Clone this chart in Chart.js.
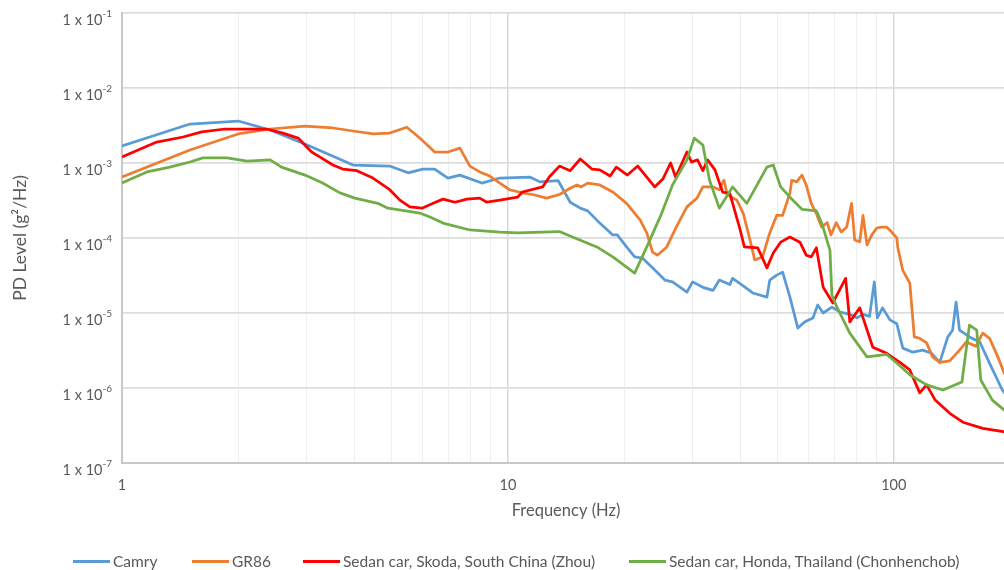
<!DOCTYPE html>
<html>
<head>
<meta charset="utf-8">
<title>PD Level vs Frequency</title>
<script src="https://cdn.jsdelivr.net/npm/chart.js@4.4.1/dist/chart.umd.min.js"></script>
<style>
  html, body { margin: 0; padding: 0; background: #fff; overflow: hidden; }
  #wrap { position: relative; width: 1004px; height: 570px; overflow: hidden; }
  #c { position: absolute; left: 0; top: 0; }
  #legend { position: absolute; left: 0; top: 551px; width: 1004px; height: 20px;
            font-family: Lato, "Open Sans", sans-serif; font-size: 15.5px; color: #595959; }
  .item { position: absolute; top: 0; height: 20px; display: flex; align-items: center; white-space: nowrap; }
  .swatch { width: 37px; height: 3px; margin-right: 3px; }
</style>
</head>
<body>
<div id="wrap">
  <canvas id="c" width="1010" height="570"></canvas>
  <div id="legend"></div>
</div>
<script>
// Series: [frequency (Hz), PSD (g^2/Hz)]
const camry = [
  [1, 1.69e-3], [1.5, 3.31e-3], [2.0, 3.63e-3], [2.42, 2.75e-3], [3.02, 1.74e-3],
  [3.97, 9.4e-4], [4.94, 9.1e-4], [5.51, 7.4e-4], [6.02, 8.3e-4], [6.46, 8.3e-4],
  [6.99, 6.3e-4], [7.51, 6.9e-4], [8.56, 5.4e-4], [9.53, 6.3e-4], [11.4, 6.5e-4],
  [12.1, 5.6e-4], [13.5, 5.8e-4], [14.5, 3.0e-4], [15.4, 2.5e-4], [16.1, 2.3e-4],
  [17.3, 1.58e-4], [18.7, 1.1e-4], [19.2, 1.1e-4], [20.3, 7.6e-5], [21.3, 5.6e-5],
  [22.3, 5.4e-5], [23.7, 4.0e-5], [25.5, 2.75e-5], [26.7, 2.6e-5], [29.1, 1.9e-5],
  [30.1, 2.6e-5], [32.0, 2.2e-5], [34.0, 2.0e-5], [35.3, 2.75e-5], [37.6, 2.4e-5],
  [38.2, 2.9e-5], [39.8, 2.5e-5], [43.1, 1.85e-5], [46.9, 1.63e-5], [47.7, 2.75e-5],
  [49.7, 3.2e-5], [51.5, 3.5e-5], [53.8, 1.63e-5], [56.4, 6.3e-6], [58.7, 7.6e-6],
  [61.7, 8.6e-6], [63.5, 1.28e-5], [65.6, 1.0e-5], [69.1, 1.2e-5], [72.6, 1.03e-5],
  [76.9, 9.6e-6], [80.3, 8.6e-6], [83.2, 9.6e-6], [86.5, 9.0e-6], [89.0, 2.6e-5],
  [90.6, 8.6e-6], [93.5, 1.17e-5], [97.7, 8.1e-6], [101.8, 7.2e-6], [105.5, 3.4e-6],
  [112, 3.0e-6], [118.8, 3.2e-6], [125.3, 2.9e-6], [131.5, 2.2e-6], [138, 4.8e-6],
  [142, 5.9e-6], [145, 1.4e-5], [148, 5.9e-6], [157, 4.8e-6], [167, 4.1e-6],
  [177, 2.15e-6], [191, 9.4e-7], [194, 8.5e-7]
];
const gr86 = [
  [1, 6.5e-4], [1.5, 1.49e-3], [2.0, 2.44e-3], [2.42, 2.84e-3], [2.98, 3.1e-3],
  [3.52, 2.93e-3], [3.97, 2.67e-3], [4.47, 2.44e-3], [4.94, 2.51e-3], [5.47, 3.0e-3],
  [5.91, 2.15e-3], [6.46, 1.4e-3], [6.99, 1.4e-3], [7.51, 1.58e-3], [7.97, 9.1e-4],
  [8.45, 7.6e-4], [8.97, 6.7e-4], [9.53, 5.4e-4], [10.1, 4.4e-4], [10.9, 4.0e-4],
  [11.6, 3.8e-4], [12.6, 3.4e-4], [13.6, 3.8e-4], [14.5, 4.6e-4], [15.1, 5.1e-4],
  [15.5, 4.8e-4], [16.1, 5.4e-4], [17.3, 5.1e-4], [18.7, 4.1e-4], [20.3, 2.9e-4],
  [22.0, 1.74e-4], [22.9, 1.17e-4], [23.7, 6.5e-5], [24.4, 5.9e-5], [25.8, 7.6e-5],
  [27.3, 1.4e-4], [29.1, 2.6e-4], [30.9, 3.4e-4], [32.0, 4.8e-4], [34.0, 4.8e-4],
  [35.3, 4.4e-4], [36.3, 5.9e-4], [37.0, 3.8e-4], [39.2, 3.2e-4], [40.7, 2.15e-4],
  [42.4, 9.4e-5], [43.6, 5.1e-5], [45.7, 5.6e-5], [47.7, 1.17e-4], [49.7, 2.0e-4],
  [51.5, 2.0e-4], [53.8, 4.0e-4], [54.4, 5.9e-4], [56.0, 5.6e-4], [57.8, 6.9e-4],
  [59.3, 5.1e-4], [61.1, 2.9e-4], [62.9, 2.15e-4], [65.0, 1.4e-4], [67.2, 1.6e-4],
  [68.7, 1.1e-4], [70.9, 1.6e-4], [73.1, 1.2e-4], [75.5, 1.4e-4], [77.7, 2.9e-4],
  [79.2, 9.4e-5], [81.6, 8.9e-5], [83.2, 2.0e-4], [85.2, 8.1e-5], [87.7, 1.1e-4],
  [90.3, 1.36e-4], [93.0, 1.4e-4], [95.8, 1.4e-4], [98.7, 1.2e-4], [101.8, 1.0e-4],
  [102.4, 7.4e-5], [105.5, 3.7e-5], [110, 2.5e-5], [113, 4.8e-6], [116.7, 4.6e-6],
  [121.6, 4.0e-6], [126, 2.6e-6], [131.5, 2.2e-6], [139.6, 2.3e-6], [148, 3.2e-6],
  [154, 4.1e-6], [163, 3.6e-6], [170, 5.4e-6], [177, 4.6e-6], [186, 2.6e-6],
  [194, 1.5e-6]
];
const skodaZhou = [
  [1, 1.2e-3], [1.23, 1.9e-3], [1.44, 2.22e-3], [1.61, 2.6e-3], [1.85, 2.84e-3],
  [2.37, 2.84e-3], [2.61, 2.5e-3], [2.86, 2.15e-3], [3.1, 1.4e-3], [3.26, 1.2e-3],
  [3.52, 9.4e-4], [3.73, 8.3e-4], [4.06, 7.9e-4], [4.47, 6.3e-4], [4.94, 4.4e-4],
  [5.25, 3.2e-4], [5.57, 2.6e-4], [5.99, 2.5e-4], [6.4, 2.9e-4], [6.79, 3.3e-4],
  [7.29, 3.0e-4], [7.83, 3.3e-4], [8.45, 3.4e-4], [8.82, 3.0e-4], [9.53, 3.2e-4],
  [10.6, 3.5e-4], [10.9, 4.1e-4], [12.3, 4.8e-4], [12.8, 6.5e-4], [13.6, 9.1e-4],
  [14.5, 7.9e-4], [15.4, 1.13e-3], [16.5, 8.3e-4], [17.3, 8.1e-4], [18.4, 6.7e-4],
  [19.1, 8.8e-4], [20.4, 6.9e-4], [21.7, 9.1e-4], [22.9, 6.5e-4], [24.0, 4.8e-4],
  [25.2, 6.1e-4], [26.4, 1.0e-3], [27.2, 6.5e-4], [29.1, 1.4e-3], [29.9, 1.03e-3],
  [31.0, 1.1e-3], [32.0, 7.9e-4], [32.9, 1.1e-3], [34.4, 8.1e-4], [36.0, 4.1e-4],
  [37.6, 3.9e-4], [39.8, 1.4e-4], [41.0, 7.6e-5], [44.4, 7.4e-5], [46.9, 4.0e-5],
  [48.7, 6.3e-5], [50.9, 8.8e-5], [53.8, 1.03e-4], [57.1, 8.8e-5], [59.3, 5.9e-5],
  [61.1, 5.6e-5], [63.0, 7.4e-5], [65.6, 2.2e-5], [69.5, 1.36e-5], [75.0, 2.9e-5],
  [76.9, 7.6e-6], [81.6, 1.17e-5], [88.2, 3.5e-6], [95.8, 2.9e-6], [103.7, 2.2e-6],
  [110, 1.74e-6], [116.7, 8.6e-7], [121.6, 1.1e-6], [128, 6.9e-7], [139.6, 4.6e-7],
  [151, 3.5e-7], [170, 2.9e-7], [194, 2.6e-7]
];
const hondaChonhenchob = [
  [1, 5.4e-4], [1.16, 7.6e-4], [1.33, 8.8e-4], [1.5, 1.03e-3], [1.62, 1.17e-3],
  [1.87, 1.17e-3], [2.11, 1.06e-3], [2.42, 1.1e-3], [2.59, 8.8e-4], [2.98, 6.9e-4],
  [3.31, 5.4e-4], [3.67, 4.0e-4], [4.01, 3.4e-4], [4.6, 2.9e-4], [4.89, 2.5e-4],
  [5.91, 2.15e-4], [6.28, 1.9e-4], [6.79, 1.58e-4], [7.97, 1.28e-4], [9.53, 1.2e-4],
  [10.6, 1.17e-4], [13.6, 1.22e-4], [14.7, 1.03e-4], [17.0, 7.6e-5], [18.7, 5.6e-5],
  [20.3, 4.1e-5], [21.3, 3.4e-5], [22.9, 7.6e-5], [24.9, 2.0e-4], [26.7, 5.1e-4],
  [29.1, 1.1e-3], [30.4, 2.15e-3], [32.0, 1.74e-3], [33.3, 5.9e-4], [35.3, 2.5e-4],
  [38.2, 4.8e-4], [41.6, 2.9e-4], [46.9, 8.8e-4], [48.7, 9.4e-4], [50.9, 4.8e-4],
  [53.8, 3.5e-4], [57.9, 2.4e-4], [63.0, 2.3e-4], [65.0, 1.6e-4], [68.3, 6.9e-5],
  [69.1, 1.74e-5], [71.2, 1.2e-5], [76.9, 5.4e-6], [85.2, 2.6e-6], [95.8, 2.8e-6],
  [101.8, 2.15e-6], [110, 1.5e-6], [121.6, 1.1e-6], [134, 9.4e-7], [150.1, 1.2e-6],
  [157, 6.9e-6], [164, 5.9e-6], [168, 1.28e-6], [180, 6.9e-7], [194, 5.0e-7]
];

const seriesNames = ['Camry', 'GR86', 'Sedan car, Skoda, South China (Zhou)', 'Sedan car, Honda, Thailand (Chonhenchob)'];
const seriesColors = ['#5B9BD5', '#ED7D31', '#FF0000', '#70AD47'];

// Axis ticks
const xGridHz = [1, 2, 3, 4, 5, 6, 7, 8, 9, 10, 20, 30, 40, 50, 60, 70, 80, 90, 100, 200];
const xTickLabels = ['1', '10', '100'];
const yTickValues = [1e-7, 1e-6, 1e-5, 1e-4, 1e-3, 1e-2, 1e-1];
const yTickExponents = ['-7', '-6', '-5', '-4', '-3', '-2', '-1'];

const TEXT = '#595959';
const FONT = 'Lato, "Open Sans", sans-serif';

const isDecade = v => Math.abs(Math.log10(v) - Math.round(Math.log10(v))) < 1e-9;

// y tick labels written as "1 x 10" with a raised exponent
const yLabelPlugin = {
  id: 'yLabels',
  afterDraw(chart) {
    const { ctx, chartArea } = chart;
    const y = chart.scales.y;
    const rightEdge = chartArea.left - 10;
    ctx.save();
    ctx.fillStyle = TEXT;
    ctx.textBaseline = 'middle';
    ctx.textAlign = 'left';
    yTickValues.forEach((v, i) => {
      const py = y.getPixelForValue(v);
      const exp = yTickExponents[i];
      ctx.font = '10px ' + FONT;
      const we = ctx.measureText(exp).width;
      ctx.font = '14.5px ' + FONT;
      const base = '1 x 10';
      const wb = ctx.measureText(base).width;
      ctx.fillText(base, rightEdge - we - wb, py + 7);
      ctx.font = '10px ' + FONT;
      ctx.fillText(exp, rightEdge - we, py + 1);
    });
    ctx.restore();
  }
};

const toPoints = arr => arr.map(([x, y]) => ({ x, y }));
const seriesData = [camry, gr86, skodaZhou, hondaChonhenchob];

const chart = new Chart(document.getElementById('c'), {
  type: 'line',
  data: {
    datasets: seriesData.map((d, i) => ({
      label: seriesNames[i],
      data: toPoints(d),
      borderColor: seriesColors[i],
      backgroundColor: seriesColors[i],
      borderWidth: 2.75,
      pointRadius: 0,
      tension: 0,
      fill: false,
      borderJoinStyle: 'round',
      order: 4 - i
    }))
  },
  options: {
    responsive: false,
    animation: false,
    devicePixelRatio: 1,
    layout: { padding: { top: 13, right: 0, bottom: 47, left: 0 } },
    plugins: { legend: { display: false }, tooltip: { enabled: false } },
    scales: {
      x: {
        type: 'logarithmic',
        min: 1,
        max: 200,
        afterBuildTicks: axis => { axis.ticks = xGridHz.map(v => ({ value: v })); },
        afterFit: scale => {
          scale.height = 60;
          scale.paddingLeft = 0;
          scale.paddingRight = 0;
        },
        ticks: {
          autoSkip: false,
          maxRotation: 0,
          padding: 14,
          color: TEXT,
          font: { family: FONT, size: 14.5 },
          callback: v => xTickLabels.includes(String(v)) ? String(v) : ''
        },
        grid: {
          drawTicks: false,
          color: c => isDecade(c.tick.value) ? '#d9d9d9' : '#eeeeee',
          lineWidth: c => isDecade(c.tick.value) ? 1.5 : 1
        },
        border: { color: '#c8c8c8', width: 2 },
        title: {
          display: true,
          text: 'Frequency (Hz)',
          color: TEXT,
          font: { family: FONT, size: 16.5 },
          padding: { top: 2, bottom: 2 }
        }
      },
      y: {
        type: 'logarithmic',
        min: 1e-7,
        max: 1e-1,
        afterBuildTicks: axis => { axis.ticks = yTickValues.map(v => ({ value: v })); },
        afterFit: scale => { scale.width = 122; },
        ticks: { callback: () => '', font: { family: FONT, size: 14.5 } },
        grid: { drawTicks: false, color: '#dcdcdc', lineWidth: 1.75 },
        border: { color: '#c8c8c8', width: 2 },
        title: {
          display: true,
          text: 'PD Level (g²/Hz)',
          color: TEXT,
          font: { family: FONT, size: 17.5 },
          padding: { top: 10, bottom: 10 }
        }
      }
    }
  },
  plugins: [yLabelPlugin]
});

// Legend row below the plot
const legendLeft = [73, 192, 303, 629];
const legend = document.getElementById('legend');
seriesNames.forEach((name, i) => {
  const item = document.createElement('div');
  item.className = 'item';
  item.style.left = legendLeft[i] + 'px';
  const sw = document.createElement('span');
  sw.className = 'swatch';
  sw.style.background = seriesColors[i];
  const tx = document.createElement('span');
  tx.textContent = name;
  item.appendChild(sw);
  item.appendChild(tx);
  legend.appendChild(item);
});
</script>
</body>
</html>
